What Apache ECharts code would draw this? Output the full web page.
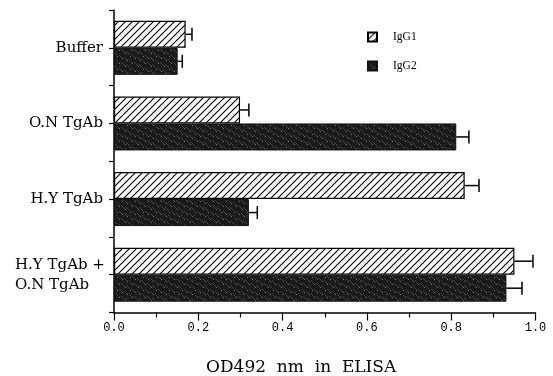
<!DOCTYPE html>
<html>
<head>
<meta charset="utf-8">
<script src="https://cdn.jsdelivr.net/npm/echarts@6/dist/echarts.min.js"></script>
<style>
  html, body { margin: 0; padding: 0; background: #fff; }
  #chart { width: 553px; height: 376px; }
</style>
</head>
<body>
<div id="chart"></div>
<script>
  // data
  var groups = ['Buffer', 'O.N TgAb', 'H.Y TgAb', 'H.Y TgAb +\nO.N TgAb']
  var seriesNames = ['IgG1', 'IgG2']
  var igg1 = [0.170, 0.299, 0.832, 0.950]
  var igg1Err = [0.015, 0.021, 0.034, 0.044]
  var igg2 = [0.151, 0.812, 0.320, 0.931]
  var igg2Err = [0.011, 0.030, 0.020, 0.037]
  var xTitle = 'OD492  nm  in  ELISA'

  var BAR_W = 27

  // white with "/" hatching
  function makeHatch () {
    var s = 7
    var c = document.createElement('canvas')
    c.width = s
    c.height = s
    var g = c.getContext('2d')
    g.fillStyle = '#fff'
    g.fillRect(0, 0, s, s)
    g.strokeStyle = '#000'
    g.lineWidth = 1.1
    g.beginPath()
    for (var k = -1; k <= 1; k++) {
      g.moveTo(-s + k * s, 2 * s)
      g.lineTo(2 * s + k * s, -s)
    }
    g.stroke()
    return c
  }

  // dark stipple
  function makeSpeckle () {
    var s = 13
    var c = document.createElement('canvas')
    c.width = s
    c.height = s
    var g = c.getContext('2d')
    g.fillStyle = '#1a1a1a'
    g.fillRect(0, 0, s, s)
    for (var i = 0; i < s * s; i++) {
      var h = (i * 73 + 17) % 31
      if (h < 4) {
        g.fillStyle = h < 1 ? '#7a7a7a' : '#444'
        g.fillRect(i % s, Math.floor(i / s), 1, 1)
      }
    }
    return c
  }

  function errBars (offset) {
    return function (params, api) {
      var cat = api.value(0)
      var p0 = api.coord([api.value(1), cat])
      var p1 = api.coord([api.value(1) + api.value(2), cat])
      var y = p0[1] + offset
      var st = { stroke: '#000', lineWidth: 1.5 }
      return {
        type: 'group',
        children: [
          { type: 'line', shape: { x1: p0[0], y1: y, x2: p1[0], y2: y }, style: st },
          { type: 'line', shape: { x1: p1[0], y1: y - 6.5, x2: p1[0], y2: y + 6.5 }, style: st }
        ]
      }
    }
  }

  var chart = echarts.init(document.getElementById('chart'))
  var catFont = 'DejaVu Serif'

  var option = {
    animation: false,
    backgroundColor: '#fff',
    title: {
      text: xTitle,
      left: 206,
      top: 359,
      padding: 0,
      textStyle: { fontFamily: catFont, fontSize: 17, fontWeight: 'normal', color: '#000' }
    },
    grid: { left: 114, right: 17.5, top: 10, bottom: 63.5 },
    legend: {
      data: seriesNames,
      orient: 'vertical',
      left: 367,
      top: 31,
      padding: 0,
      itemWidth: 9,
      itemHeight: 9,
      itemGap: 17,
      icon: 'rect',
      textStyle: { fontFamily: 'Liberation Serif', fontSize: 11.5, color: '#000', padding: [0, 0, 0, 11] }
    },
    xAxis: {
      type: 'value',
      min: 0,
      max: 1,
      interval: 0.2,
      axisLine: { show: true, lineStyle: { color: '#000', width: 1.5 } },
      axisTick: { show: true, length: 8, lineStyle: { color: '#000', width: 1.2 } },
      minorTick: { show: true, splitNumber: 2, length: 5, lineStyle: { color: '#000', width: 1.2 } },
      splitLine: { show: false },
      axisLabel: {
        margin: 9,
        color: '#000',
        fontFamily: 'Liberation Mono',
        fontSize: 12,
        formatter: function (v) { return v.toFixed(1) }
      }
    },
    yAxis: [{
      type: 'category',
      data: groups,
      inverse: true,
      axisLine: { show: true, lineStyle: { color: '#000', width: 1.5 } },
      axisTick: { show: true, alignWithLabel: true, length: 5, lineStyle: { color: '#000', width: 1.2 } },
      axisLabel: {
        margin: 11,
        color: '#000',
        fontFamily: catFont,
        fontSize: 15,
        formatter: function (v) {
          if (v.indexOf('\n') < 0) return v
          return v.split('\n').map(function (s) { return '{l|' + s + '}' }).join('\n')
        },
        rich: {
          l: { width: 88, align: 'left', fontFamily: catFont, fontSize: 15, lineHeight: 20, color: '#000' }
        }
      }
    }, {
      type: 'category',
      data: groups,
      inverse: true,
      position: 'left',
      offset: 0,
      axisLine: { show: false },
      axisTick: { show: true, length: 5, lineStyle: { color: '#000', width: 1.2 } },
      axisLabel: { show: false }
    }],
    series: [{
      name: seriesNames[0],
      type: 'bar',
      yAxisIndex: 0,
      barWidth: BAR_W,
      barGap: '0%',
      data: igg1,
      itemStyle: { color: { image: makeHatch(), repeat: 'repeat' }, borderColor: '#000', borderWidth: 1.2 }
    }, {
      name: seriesNames[1],
      type: 'bar',
      yAxisIndex: 0,
      barWidth: BAR_W,
      barGap: '0%',
      data: igg2,
      itemStyle: { color: { image: makeSpeckle(), repeat: 'repeat' }, borderColor: '#111', borderWidth: 1 }
    }, {
      type: 'custom',
      yAxisIndex: 0,
      renderItem: errBars(-BAR_W / 2),
      encode: { x: [1, 2], y: 0 },
      data: igg1.map(function (v, i) { return [i, v, igg1Err[i]] }),
      z: 3
    }, {
      type: 'custom',
      yAxisIndex: 0,
      renderItem: errBars(BAR_W / 2),
      encode: { x: [1, 2], y: 0 },
      data: igg2.map(function (v, i) { return [i, v, igg2Err[i]] }),
      z: 3
    }]
  }
  chart.setOption(option)
</script>
</body>
</html>
